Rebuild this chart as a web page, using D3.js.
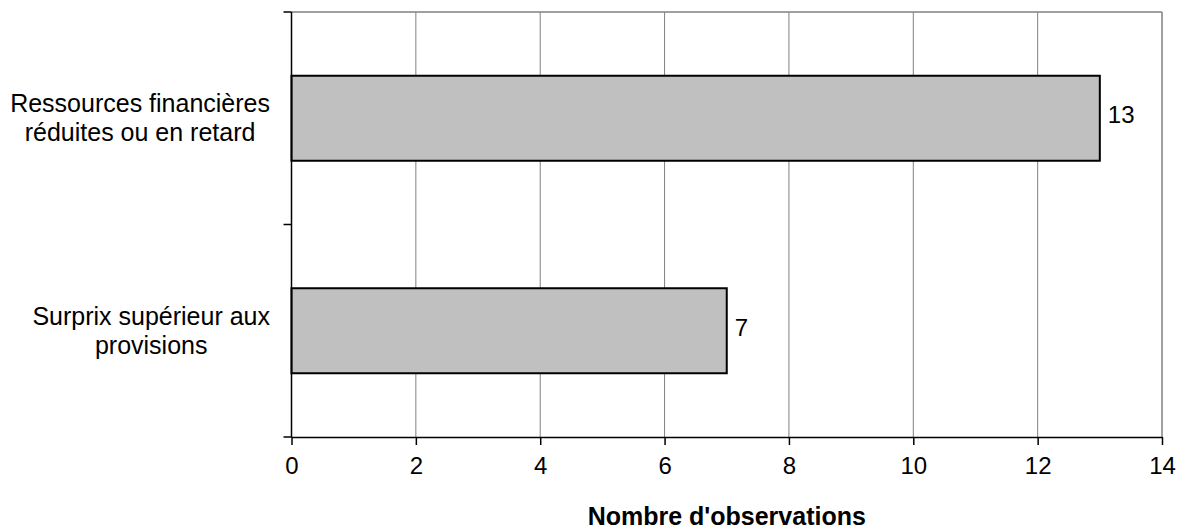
<!DOCTYPE html>
<html><head><meta charset="utf-8">
<script src="https://cdn.jsdelivr.net/npm/d3@7"></script>
<style>body{margin:0;background:#fff}svg{display:block;font-family:"Liberation Sans",Arial,sans-serif}</style>
</head><body>
<svg id="c" width="1184" height="531"></svg>
<script>
const categories = [["Ressources financières","réduites ou en retard"],["Surprix supérieur aux","provisions"]];
const values = [13, 7];
const xTicks = [0,2,4,6,8,10,12,14];
const xTitle = "Nombre d'observations";

const svg = d3.select("#c");
const L = 291.5, R = 1162, T = 12, B = 437;
const x = d3.scaleLinear().domain([0,14]).range([L,R]);
const y = d3.scaleBand().domain(d3.range(categories.length)).range([T,B]).paddingInner(0.6).paddingOuter(0.3);

// gridlines
svg.append("g").selectAll("line").data(xTicks.slice(1,-1)).join("line")
  .attr("x1",d=>x(d)).attr("x2",d=>x(d)).attr("y1",T).attr("y2",B)
  .attr("stroke","#808080").attr("stroke-width",1);
// top & right border
svg.append("line").attr("x1",L).attr("x2",R).attr("y1",T).attr("y2",T).attr("stroke","#808080").attr("stroke-width",1.5);
svg.append("line").attr("x1",R).attr("x2",R).attr("y1",T).attr("y2",B).attr("stroke","#808080").attr("stroke-width",1.5);

// bars
svg.append("g").selectAll("rect").data(values).join("rect")
  .attr("x",x(0)).attr("y",(d,i)=>y(i)).attr("width",d=>x(d)-x(0)).attr("height",y.bandwidth())
  .attr("fill","#c0c0c0").attr("stroke","#000").attr("stroke-width",2);

// value labels
svg.append("g").selectAll("text").data(values).join("text")
  .attr("x",d=>x(d)+8).attr("y",(d,i)=>y(i)+y.bandwidth()/2+5)
  .attr("font-size",24).attr("fill","#000").text(d=>d);

// x axis
const xa = svg.append("g").attr("transform",`translate(0,${B})`)
  .call(d3.axisBottom(x).tickValues(xTicks).tickSize(8).tickSizeOuter(0).tickPadding(12));
xa.select(".domain").attr("stroke","#000").attr("stroke-width",1.5);
xa.selectAll(".tick line").attr("stroke","#000").attr("stroke-width",1.5);
xa.selectAll(".tick text").attr("font-size",24).attr("fill","#000").attr("font-family","Liberation Sans, Arial, sans-serif");

// y axis line with ticks at band boundaries
const yb = [T, (T+B)/2, B];
svg.append("line").attr("x1",L).attr("x2",L).attr("y1",T).attr("y2",B).attr("stroke","#000").attr("stroke-width",1.5);
svg.append("g").selectAll("line").data(yb).join("line")
  .attr("x1",L-8).attr("x2",L).attr("y1",d=>d).attr("y2",d=>d).attr("stroke","#000").attr("stroke-width",1.5);

// category labels: block right-aligned near axis, lines centered within block
const labelRight = 270;
const cl = svg.append("g").selectAll("text").data(categories).join("text")
  .attr("y",(d,i)=>y(i)+y.bandwidth()/2-6)
  .attr("text-anchor","middle").attr("font-size",25).attr("fill","#000");
cl.selectAll("tspan").data(d=>d.map((t,k)=>({t,k}))).join("tspan")
  .attr("dy",d=>d.k===0 ? 0 : 29).text(d=>d.t);
cl.each(function(){
  const ts = d3.select(this).selectAll("tspan");
  let w = 0; ts.each(function(){ w = Math.max(w, this.getComputedTextLength()); });
  ts.attr("x", labelRight - w/2);
});

// axis title
svg.append("text").attr("x",(L+R)/2).attr("y",525).attr("text-anchor","middle")
  .attr("font-size",25).attr("font-weight","bold").attr("fill","#000").text(xTitle);
</script>
</body></html>
